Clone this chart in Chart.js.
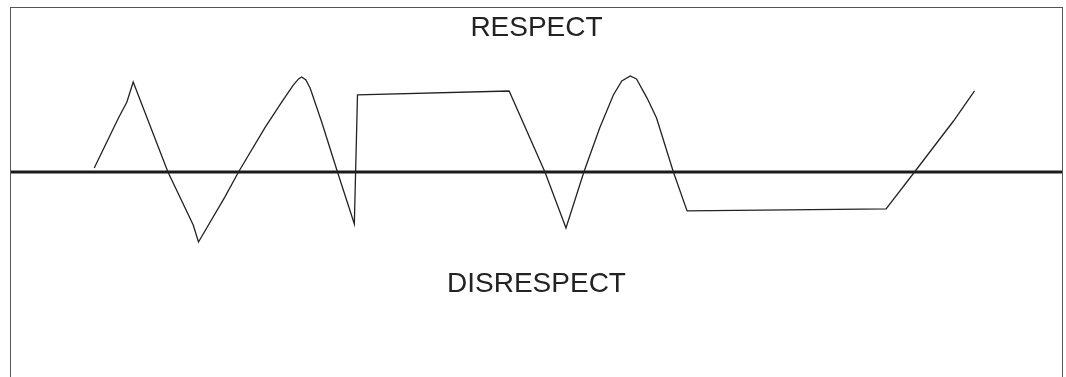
<!DOCTYPE html>
<html>
<head>
<meta charset="utf-8">
<script src="https://cdn.jsdelivr.net/npm/chart.js@4"></script>
<style>
  html, body { margin: 0; padding: 0; background: #fff; overflow: hidden; }
  #wrap { width: 1066px; height: 390px; position: relative; }
</style>
</head>
<body>
<div id="wrap"><canvas id="respectChart"></canvas></div>
<script>
// position along the timeline (0-100) and respect level (-130..100)
var timeX = [8.0, 10.3, 11.1, 11.7, 15.0, 17.4, 17.9, 20.4, 21.7, 24.2,
  25.8, 26.9, 27.4, 27.7, 28.1, 28.5, 29.6, 31.1, 32.7, 33.0,
  47.4, 50.8, 52.8, 54.5, 56.0, 57.3, 58.1, 58.9, 59.5, 60.5,
  61.4, 63.0, 64.3, 83.2, 85.9, 89.6, 91.6];
var respect = [2.4, 32.7, 42.4, 54.5, 0, -32.1, -42.4, -15.2, 0, 26.7,
  42.4, 52.7, 56.4, 57.6, 55.8, 50.9, 30.3, 0, -31.5, 46.7,
  49.1, 0, -33.9, 0, 26.7, 46.7, 55.2, 58.2, 56.4, 44.8,
  32.7, 0, -23.6, -22.4, 0, 30.9, 49.1];

var zoneLabels = ["RESPECT", "DISRESPECT"];
var zoneY = [87.3, -67.9];

var ctx = document.getElementById("respectChart");

var points = timeX.map(function (x, i) {
  return { x: x, y: respect[i] };
});

// frame around the plot and the two zone captions
var framePlugin = {
  id: "frame",
  afterDraw: function (chart) {
    var c = chart.ctx;
    var a = chart.chartArea;
    c.save();
    c.strokeStyle = "#555";
    c.lineWidth = 1;
    c.strokeRect(a.left + 0.5, a.top + 0.5, a.right - a.left - 1, a.bottom - a.top);
    c.fillStyle = "#222";
    c.font = "28px 'Liberation Sans', Arial, sans-serif";
    c.textAlign = "center";
    c.textBaseline = "middle";
    var xs = chart.scales.x;
    var ys = chart.scales.y;
    zoneLabels.forEach(function (t, i) {
      c.fillText(t, xs.getPixelForValue(50), ys.getPixelForValue(zoneY[i]));
    });
    c.restore();
  }
};

new Chart(ctx, {
  type: "line",
  data: {
    datasets: [
      {
        label: "respect",
        data: points,
        borderColor: "#222",
        borderWidth: 1.3,
        pointRadius: 0,
        tension: 0,
        fill: false
      },
      {
        label: "neutral",
        data: [{ x: 0, y: 0 }, { x: 100, y: 0 }],
        borderColor: "#1a1a1a",
        borderWidth: 3,
        pointRadius: 0,
        fill: false
      }
    ]
  },
  options: {
    responsive: true,
    maintainAspectRatio: false,
    animation: false,
    layout: { padding: { left: 10, top: 7, right: 3, bottom: 3.5 } },
    scales: {
      x: { type: "linear", min: 0, max: 100, display: false },
      y: { min: -130, max: 100, display: false }
    },
    plugins: {
      legend: { display: false },
      tooltip: { enabled: false }
    }
  },
  plugins: [framePlugin]
});
</script>
</body>
</html>
